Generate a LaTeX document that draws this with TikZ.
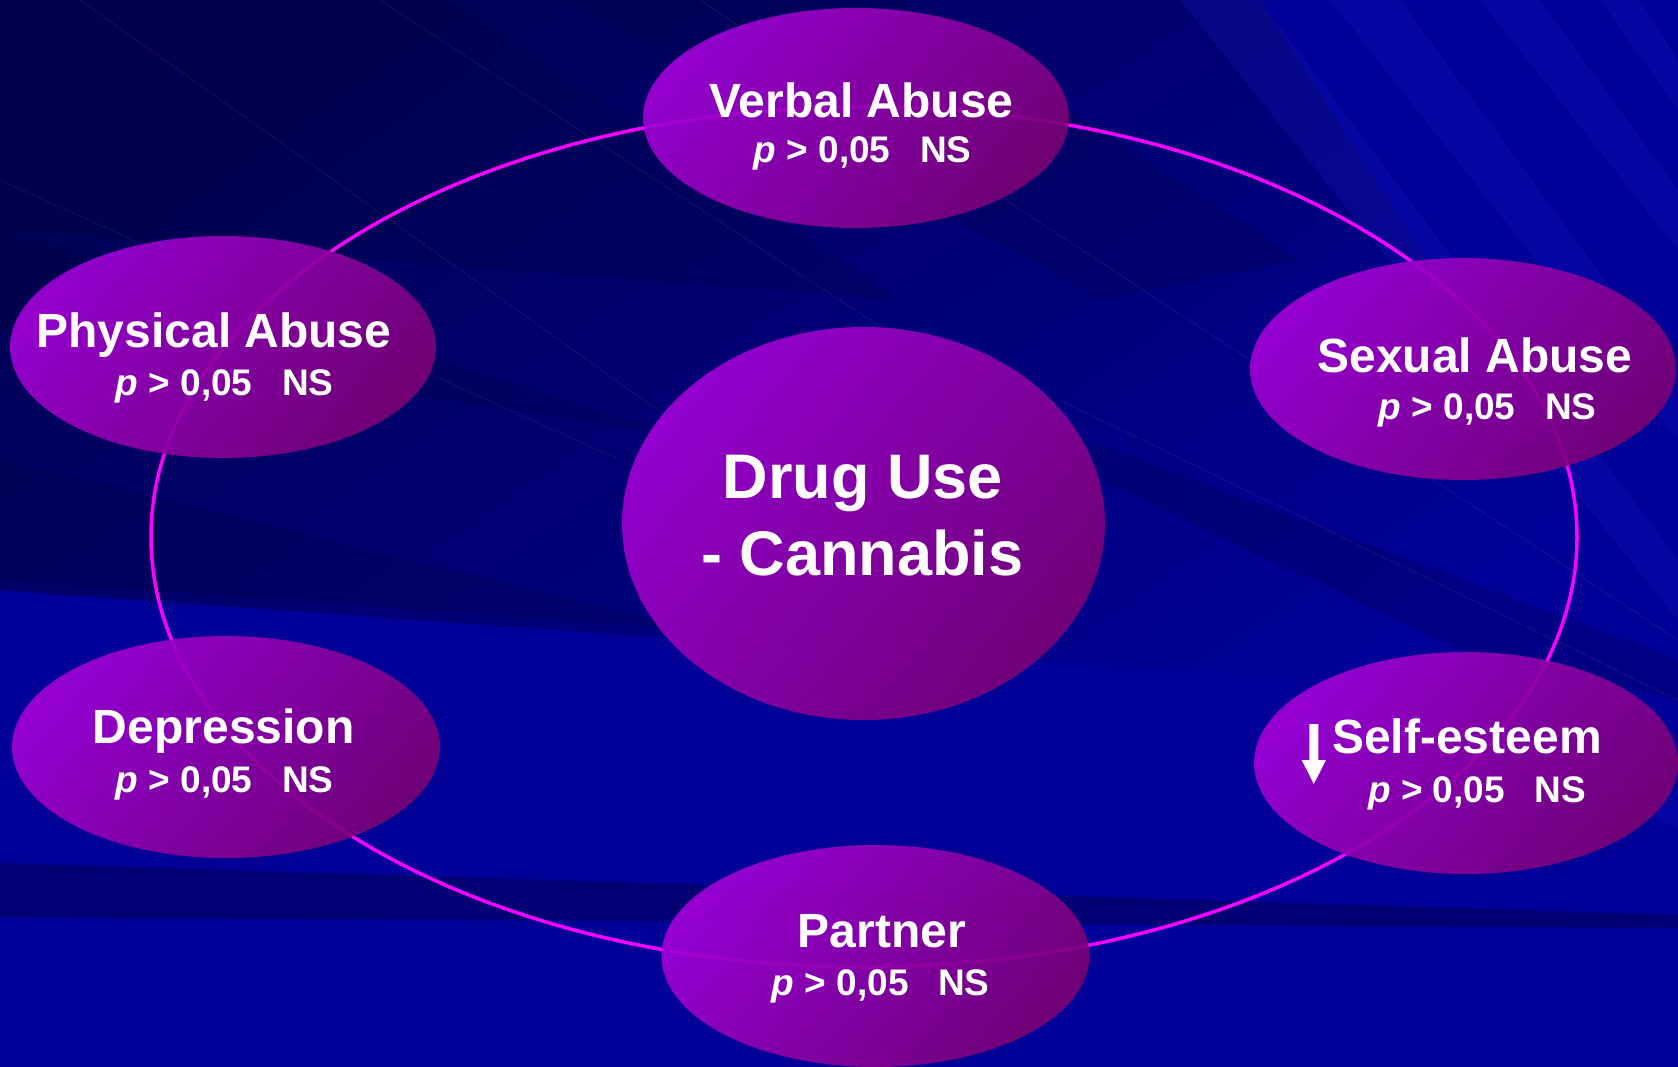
\documentclass[tikz,border=0pt]{standalone}
\usepackage{fontspec}
\setmainfont{Liberation Sans}
\usetikzlibrary{shapes.geometric,calc}
\definecolor{bgdark}{RGB}{0,0,85}
\definecolor{bgstreak}{RGB}{0,0,55}
\definecolor{bgmain}{RGB}{0,0,150}
\definecolor{bglight}{RGB}{30,30,210}
\definecolor{bublight}{RGB}{160,0,215}
\definecolor{bubdark}{RGB}{122,0,118}
\definecolor{ringcol}{RGB}{255,0,255}
\begin{document}
\begin{tikzpicture}[x=1pt,y=-1pt,
  bubble/.style={ellipse, inner sep=0pt, draw=none, top color=bublight, bottom color=bubdark, shading angle=50, fill opacity=0.92},
  lab/.style={text=white, font=\bfseries\fontsize{48}{54}\selectfont, inner sep=0pt, anchor=base},
  stat/.style={text=white, font=\bfseries\fontsize{37}{42}\selectfont, inner sep=0pt, anchor=base},
  big/.style={text=white, font=\bfseries\fontsize{63}{70}\selectfont, inner sep=0pt, anchor=base},
  ringline/.style={draw=ringcol, line width=3.5pt},
  streakdark/.style={fill=bgstreak, fill opacity=0.2},
  streaklight/.style={fill=bglight, fill opacity=0.2},
  thinline/.style={draw=white, draw opacity=0.06, line width=1pt},
]
% background
\useasboundingbox (0,0) rectangle (1678,1067);
\fill[bgmain] (0,0) rectangle (1678,1067);
\shade[top color=bgdark, bottom color=bgmain, shading angle=35]
  (0,0) -- (1260,0) -- (1678,650) -- (1678,700) -- (700,640) -- (0,590) -- cycle;
\fill[streakdark] (0,0) -- (450,0) -- (900,300) -- (0,230) -- cycle;
\fill[streakdark] (0,230) -- (700,440) -- (0,330) -- cycle;
\fill[streakdark] (0,460) -- (700,630) -- (0,580) -- cycle;
\fill[streakdark] (560,0) -- (900,0) -- (1300,260) -- (1100,300) -- cycle;
\fill[streakdark] (1060,460) -- (1460,650) -- (1678,700) -- (1678,660) -- (1100,445) -- cycle;
\fill[streaklight] (1180,0) -- (1260,0) -- (1678,560) -- (1678,620) -- cycle;
\fill[streaklight] (1330,0) -- (1400,0) -- (1678,380) -- (1678,440) -- cycle;
\fill[streaklight] (1480,0) -- (1540,0) -- (1678,190) -- (1678,250) -- cycle;
\fill[streaklight] (1600,0) -- (1640,0) -- (1678,60) -- (1678,110) -- cycle;
\fill[streaklight] (1560,760) -- (1678,740) -- (1678,830) -- cycle;
\fill[streakdark] (0,863) -- (1678,915) -- (1678,928) -- (0,917) -- cycle;
\fill[streakdark] (0,863) -- (1678,915) -- (1678,928) -- (0,917) -- cycle;
\draw[thinline] (80,0) -- (700,440);
\draw[thinline] (380,0) -- (1100,470);
\draw[thinline] (700,0) -- (1678,640);
\draw[thinline] (0,180) -- (620,460);
\draw[thinline] (1060,400) -- (1678,700);

% ring
\draw[ringline] (864,537) ellipse [x radius=713, y radius=430];

% bubbles
\node[bubble, minimum width=426, minimum height=220] (verbal) at (856,118) {};
\node[bubble, minimum width=426, minimum height=222] (physical) at (223,347) {};
\node[bubble, minimum width=426, minimum height=222] (sexual) at (1463,369) {};
\node[bubble, minimum width=483, minimum height=393] (drug) at (863.5,523.5) {};
\node[bubble, minimum width=428, minimum height=222] (depression) at (226,747) {};
\node[bubble, minimum width=424, minimum height=222] (selfesteem) at (1466,763) {};
\node[bubble, minimum width=428, minimum height=222] (partner) at (875.5,956) {};

% labels
\node[lab] (verbalA) at (861.5,117.7) {Verbal Abuse};
\node[stat] (verbalB) at (862.6,162.7) {\textit{p} > 0,05\hspace{0.8em}NS};
\node[lab] (physicalA) at (214,347.8) {Physical Abuse};
\node[stat] (physicalB) at (224.7,395) {\textit{p} > 0,05\hspace{0.8em}NS};
\node[lab] (sexualA) at (1474.7,372.4) {Sexual Abuse};
\node[stat] (sexualB) at (1487.6,419.5) {\textit{p} > 0,05\hspace{0.8em}NS};
\node[big] (drugA) at (863,498) {Drug Use};
\node[big] (drugB) at (862.5,575) {- Cannabis};
\node[lab] (depressionA) at (223.7,743.8) {Depression};
\node[stat] (depressionB) at (224.7,792) {\textit{p} > 0,05\hspace{0.8em}NS};
\node[lab] (selfesteemA) at (1467,753) {Self-esteem};
\node[stat] (selfesteemB) at (1477,802) {\textit{p} > 0,05\hspace{0.8em}NS};
\node[lab] (partnerA) at (882,947) {Partner};
\node[stat] (partnerB) at (880.8,995) {\textit{p} > 0,05\hspace{0.8em}NS};

% down arrow
\fill[white] (1309.3,724) -- (1318.3,724) -- (1318.3,760) -- (1326,760) -- (1313.8,784) -- (1301.7,760) -- (1309.3,760) -- cycle;
\end{tikzpicture}
\end{document}
